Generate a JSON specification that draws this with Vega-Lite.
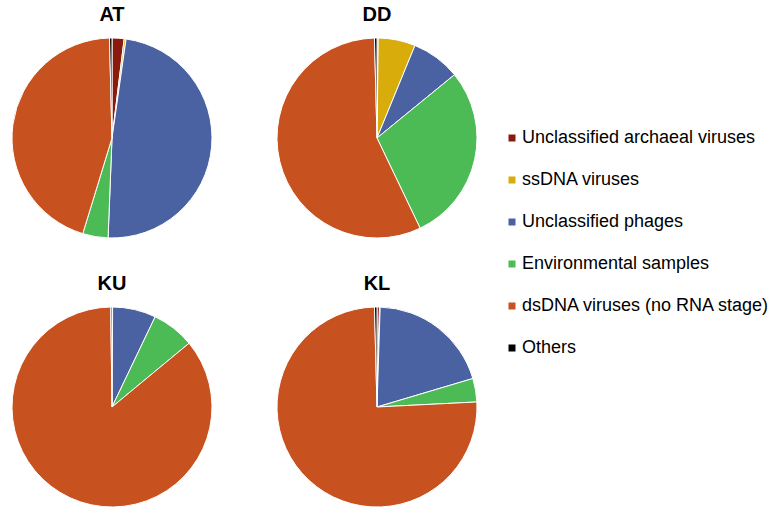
{
  "$schema": "https://vega.github.io/schema/vega-lite/v6.json",
  "padding": {"left": 10, "top": 5, "right": 5, "bottom": 5},
  "background": "white",
  "data": {
    "values": [
      {"site": "AT", "category": "Unclassified archaeal viruses", "k": 1, "value": 1.95},
      {"site": "AT", "category": "ssDNA viruses", "k": 2, "value": 0.3},
      {"site": "AT", "category": "Unclassified phages", "k": 3, "value": 48.4},
      {"site": "AT", "category": "Environmental samples", "k": 4, "value": 4.1},
      {"site": "AT", "category": "dsDNA viruses (no RNA stage)", "k": 5, "value": 44.9},
      {"site": "AT", "category": "Others", "k": 6, "value": 0.4},
      {"site": "DD", "category": "Unclassified archaeal viruses", "k": 1, "value": 0.2},
      {"site": "DD", "category": "ssDNA viruses", "k": 2, "value": 6.0},
      {"site": "DD", "category": "Unclassified phages", "k": 3, "value": 7.9},
      {"site": "DD", "category": "Environmental samples", "k": 4, "value": 28.8},
      {"site": "DD", "category": "dsDNA viruses (no RNA stage)", "k": 5, "value": 56.7},
      {"site": "DD", "category": "Others", "k": 6, "value": 0.4},
      {"site": "KU", "category": "Unclassified archaeal viruses", "k": 1, "value": 0.05},
      {"site": "KU", "category": "ssDNA viruses", "k": 2, "value": 0.05},
      {"site": "KU", "category": "Unclassified phages", "k": 3, "value": 7.0},
      {"site": "KU", "category": "Environmental samples", "k": 4, "value": 6.9},
      {"site": "KU", "category": "dsDNA viruses (no RNA stage)", "k": 5, "value": 85.8},
      {"site": "KU", "category": "Others", "k": 6, "value": 0.2},
      {"site": "KL", "category": "Unclassified archaeal viruses", "k": 1, "value": 0.4},
      {"site": "KL", "category": "ssDNA viruses", "k": 2, "value": 0.1},
      {"site": "KL", "category": "Unclassified phages", "k": 3, "value": 19.9},
      {"site": "KL", "category": "Environmental samples", "k": 4, "value": 3.8},
      {"site": "KL", "category": "dsDNA viruses (no RNA stage)", "k": 5, "value": 75.4},
      {"site": "KL", "category": "Others", "k": 6, "value": 0.4}
    ]
  },
  "facet": {
    "field": "site",
    "type": "nominal",
    "sort": ["AT", "DD", "KU", "KL"],
    "header": {
      "title": null,
      "labelFont": "Liberation Sans",
      "labelFontSize": 20,
      "labelFontWeight": "bold",
      "labelColor": "#000000",
      "labelPadding": 11
    }
  },
  "columns": 2,
  "spacing": {"column": 61, "row": 34},
  "spec": {
    "width": 200,
    "height": 200,
    "mark": {"type": "arc", "outerRadius": 100, "stroke": "#ffffff", "strokeWidth": 1},
    "encoding": {
      "theta": {"field": "value", "type": "quantitative", "stack": true},
      "order": {"field": "k", "type": "quantitative", "sort": "ascending"},
      "color": {
        "field": "category",
        "type": "nominal",
        "scale": {
          "domain": ["Unclassified archaeal viruses", "ssDNA viruses", "Unclassified phages", "Environmental samples", "dsDNA viruses (no RNA stage)", "Others"],
          "range": ["#8B1A0E", "#D8AD0B", "#4A62A2", "#4DBB55", "#C7511F", "#000000"]
        },
        "legend": {
          "title": null,
          "orient": "none",
          "legendX": 491,
          "legendY": 91,
          "symbolType": "square",
          "symbolSize": 49,
          "symbolStrokeWidth": 0,
          "labelFont": "Liberation Sans",
          "labelFontSize": 18,
          "labelColor": "#000000",
          "labelLimit": 400,
          "labelOffset": 1,
          "rowPadding": 24,
          "padding": 0
        }
      }
    }
  },
  "config": {
    "view": {"stroke": null},
    "legend": {"symbolOpacity": 1}
  }
}
